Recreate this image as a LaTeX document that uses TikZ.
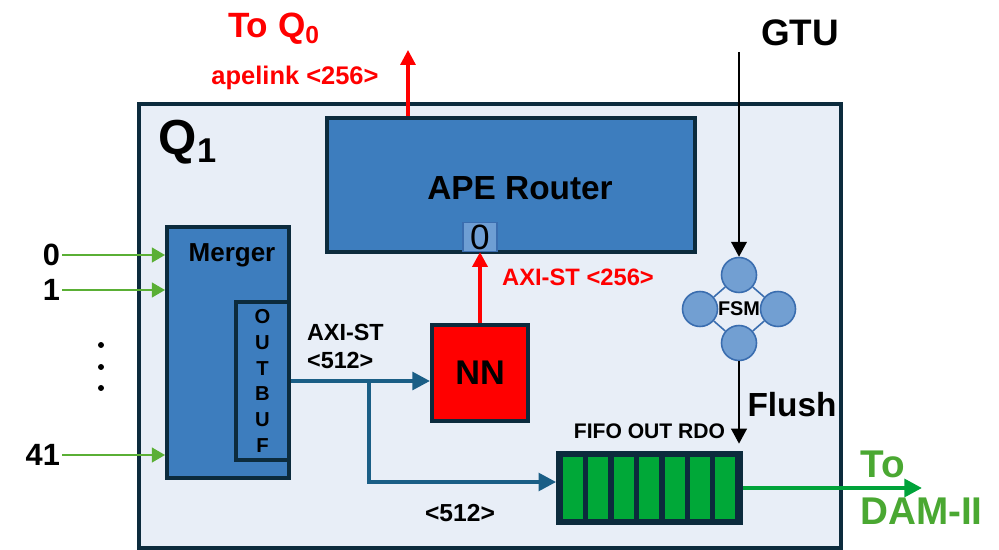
\documentclass[tikz,border=0pt]{standalone}
\usepackage{fontspec}
\setmainfont{Liberation Sans}
\usepackage{xcolor}
\usepackage{tikz}
\usetikzlibrary{shapes, arrows.meta, positioning, calc}

\definecolor{darkline}{HTML}{0C2B3D}
\definecolor{qfill}{HTML}{E8EEF7}
\definecolor{blockblue}{HTML}{3D7DBE}
\definecolor{portblue}{HTML}{6E9ED4}
\definecolor{busblue}{HTML}{1A5E86}
\definecolor{ingreen}{HTML}{5AAF35}
\definecolor{fifogreen}{HTML}{00A838}
\definecolor{outgreen}{HTML}{00A33A}
\definecolor{txtgreen}{HTML}{4AA832}
\definecolor{fsmfill}{HTML}{729FD2}
\definecolor{fsmdraw}{HTML}{3A6DAF}

\newcommand{\fsz}[1]{\fontsize{#1}{#1}\selectfont\bfseries}

\begin{document}
\begin{tikzpicture}[x=0.02cm, y=-0.02cm,
   quad/.style={rectangle, draw=darkline, fill=qfill, line width=2.3pt, minimum width=14.04cm, minimum height=8.88cm},
   block/.style={rectangle, draw=darkline, fill=blockblue, line width=2.3pt, inner sep=0pt},
   port/.style={rectangle, draw=fsmdraw, fill=portblue, line width=0.6pt, minimum width=0.68cm, minimum height=0.58cm, inner sep=0pt, font=\fontsize{20}{20}\selectfont},
   nnbox/.style={rectangle, draw=darkline, fill=red, line width=2.3pt, minimum width=1.92cm, minimum height=1.92cm, font=\fsz{19.5}},
   fifobox/.style={rectangle, draw=darkline, fill=darkline, line width=1pt, minimum width=3.7cm, minimum height=1.44cm},
   state/.style={circle, draw=fsmdraw, fill=fsmfill, line width=0.9pt, minimum size=0.7cm, inner sep=0pt},
   lbl/.style={inner sep=1pt, font=\fsz{13.5}},
   redlink/.style={red, line width=2.4pt, -{Triangle[length=8.5pt, width=8.5pt]}},
   bus/.style={busblue, line width=2.2pt, -{Triangle[length=10pt, width=10pt]}},
   inlink/.style={ingreen, line width=0.9pt, -{Triangle[length=7.5pt, width=8.5pt]}},
   sig/.style={black, line width=0.8pt, -{Triangle[length=8.5pt, width=9pt]}},
   outlink/.style={outgreen, line width=2.4pt, -{Triangle[length=10pt, width=10pt]}}
]
   \useasboundingbox (0,0) rectangle (999,550);

   % Q1 frame
   \node[quad] (q1) at (490,326) {};
   \node[font=\fsz{28}] (q1lbl) at (188,142) {Q\textsubscript{1}};

   % APE router with port 0
   \node[block, minimum width=7.36cm, minimum height=2.68cm] (ape) at (511,185) {};
   \node[font=\fsz{19}] (apelbl) at (520,188) {APE Router};
   \node[port] (port0) at (480,237) {0};

   % Merger and output buffer
   \node[block, minimum width=2.44cm, minimum height=5.02cm] (merger) at (228,352.5) {};
   \node[font=\fsz{14.8}] (mergerlbl) at (232,255) {Merger};
   \node[block, minimum width=1.06cm, minimum height=3.16cm, align=center,
         font=\fontsize{11.5}{14.6}\selectfont\bfseries] (outbuf) at (262.5,381) {O\\U\\T\\B\\U\\F};

   % NN
   \node[nnbox] (nn) at (480,373) {NN};

   % FIFO
   \node[fifobox] (fifo) at (649.5,488) {};
   \foreach \i in {0,...,6}
      \fill[fifogreen] ({563+\i*25.4},457) rectangle ({583+\i*25.4},519);
   \node[lbl, font=\fsz{12}, above=0.2cm of fifo] (fifolbl) {FIFO OUT RDO};

   % FSM
   \node[state] (fsmtop) at (739,275) {};
   \node[state] (fsmleft) at (700,309) {};
   \node[state] (fsmright) at (778,309) {};
   \node[state] (fsmbot) at (739,343) {};
   \draw[fsmdraw, line width=0.9pt] (fsmtop) -- (fsmleft) -- (fsmbot) -- (fsmright) -- (fsmtop);
   \node[font=\fsz{11.3}, inner sep=0pt] (fsmlbl) at (739,309) {FSM};

   % Inputs
   \node[anchor=east, inner sep=1pt, font=\fsz{17.5}] (in0) at (62,255) {0};
   \node[anchor=east, inner sep=1pt, font=\fsz{17.5}] (in1) at (62,290) {1};
   \node[anchor=east, inner sep=1pt, font=\fsz{17.5}] (in41) at (62,455) {41};
   \foreach \n in {in0,in1,in41}
      \draw[inlink] (\n) -- (\n -| merger.west);
   \foreach \y in {345,367,388}
      \fill (101,\y) circle (1.7pt);

   % Bus from OUTBUF
   \coordinate (split) at (369,380);
   \draw[bus] (outbuf.east) -- (outbuf.east -| nn.west);
   \draw[bus] (split) |- ($(fifo.west)+(0,-6)$);
   \node[lbl, anchor=west, align=left, font=\fontsize{13.3}{15.9}\selectfont\bfseries] (bus512) at (305,346) {AXI-ST\\<512>};
   \node[lbl, font=\fsz{14}] (fifo512) at (460,513) {<512>};

   % NN to router
   \draw[redlink] (nn.north) -- (port0.south);
   \node[lbl, red] (axi256) at (578,277) {AXI-ST <256>};

   % Router to Q0
   \coordinate (toq0) at (408,50);
   \draw[redlink, line width=1.8pt] (ape.north -| toq0) -- (toq0);
   \node[lbl, red, font=\fsz{14.5}] (apelink) at (295,78) {apelink <256>};
   \node[red, font=\fsz{20}] (q0lbl) at (274,29) {To Q\textsubscript{0}};

   % GTU and flush
   \coordinate (gtuin) at (739,52);
   \node[font=\fsz{21}] (gtu) at (800,33) {GTU};
   \draw[sig] (gtuin) -- (fsmtop);
   \draw[sig, shorten >=1.5mm] (fsmbot) -- (fsmbot |- fifo.north);
   \node[font=\fsz{19}] (flush) at (792,405) {Flush};

   % Output to DAM-II
   \coordinate (todam) at (922,488);
   \draw[outlink] (fifo.east) -- (todam);
   \node[anchor=west, align=left, txtgreen, inner sep=0pt, font=\fontsize{22}{26.6}\selectfont\bfseries] (damlbl) at (860,488) {To\\DAM-II};
\end{tikzpicture}
\end{document}
